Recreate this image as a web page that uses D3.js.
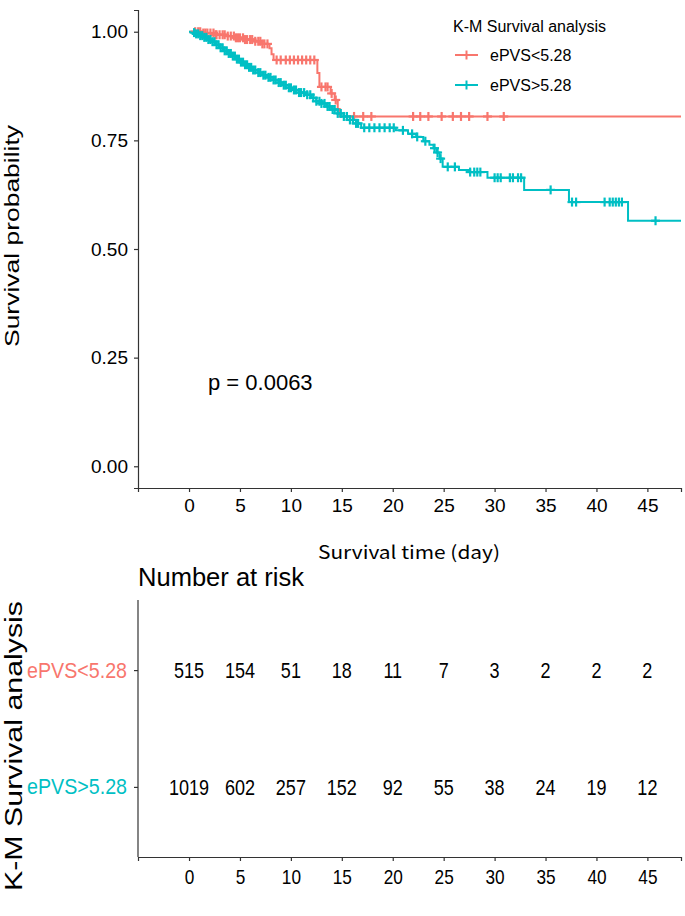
<!DOCTYPE html>
<html><head><meta charset="utf-8">
<script src="https://cdn.jsdelivr.net/npm/d3@7"></script>
<style>body{margin:0;background:#fff}svg{display:block}</style>
</head><body>
<svg id="c" width="685" height="916"></svg>
<script>
// ---------- data ----------
const groups = ["ePVS<5.28", "ePVS>5.28"];
const colors = ["#F8766D", "#00BFC4"];
const legendTitle = "K-M Survival analysis";
const pValueText = "p = 0.0063";
const xTicks = [0, 5, 10, 15, 20, 25, 30, 35, 40, 45];
const yTicks = [0, 0.25, 0.5, 0.75, 1];
const lastTime = [48.3, 48.3];

// group 1: ePVS<5.28 (event times and survival after each event)
const redTimes = [1.2, 2.5, 3.6, 4.6, 5.5, 6.3, 7.2, 7.9, 8.1, 8.3, 12.6, 12.8, 13.9, 14.3, 14.6, 14.8];
const redSurv  = [0.997, 0.993, 0.990, 0.986, 0.982, 0.978, 0.972, 0.962, 0.948, 0.935, 0.905, 0.873, 0.858, 0.843, 0.822, 0.805];
const redCensor = [0.6, 0.9, 1.1, 1.4, 1.6, 1.8, 2.1, 2.4, 2.6, 2.7, 3.0, 3.3, 3.5, 3.8, 4.1, 4.4, 4.6, 4.8, 5.0, 5.3, 5.5, 5.7,
  6.0, 6.2, 6.5, 6.8, 7.0, 7.2, 7.4, 7.7,
  8.6, 9.0, 9.5, 9.9, 10.3, 10.7, 11.1, 11.5, 11.9, 12.3, 13.0, 13.4, 13.6, 14.0, 14.4,
  16.2, 17.1, 17.9, 22.0, 22.7, 23.5, 24.8, 25.9, 26.7, 27.5, 29.3, 30.9];

// group 2: ePVS>5.28
const tealTimes = [0.3, 0.7, 1.0, 1.4, 1.8, 2.2, 2.6, 3.0, 3.4, 3.8, 4.2, 4.6, 5.0, 5.4, 5.8, 6.3, 6.8, 7.3, 7.8, 8.3, 8.8, 9.3, 9.8,
  10.3, 10.8, 11.4, 12.0, 12.5, 13.0, 13.5, 14.0, 14.6, 15.2, 15.8, 16.4, 16.9, 20.3, 21.5, 22.3, 23.0, 23.6, 24.0, 24.3, 24.6,
  24.9, 26.5, 27.6, 29.3, 32.9, 37.3, 43.1];
const tealSurv = [0.998, 0.995, 0.991, 0.987, 0.982, 0.977, 0.970, 0.963, 0.956, 0.950, 0.944, 0.937, 0.930, 0.924, 0.918, 0.912,
  0.906, 0.900, 0.895, 0.889, 0.883, 0.877, 0.871, 0.866, 0.860, 0.855, 0.848, 0.840, 0.835, 0.828, 0.821, 0.812, 0.805, 0.797,
  0.789, 0.779, 0.773, 0.765, 0.758, 0.748, 0.740, 0.732, 0.722, 0.708, 0.689, 0.682, 0.677, 0.664, 0.636, 0.608, 0.565];
const tealCensor = [0.5, 0.7, 0.9, 1.1, 1.3, 1.5, 1.7, 1.9, 2.1, 2.3, 2.5, 2.7, 2.9, 3.1, 3.3, 3.5, 3.7, 3.9, 4.1, 4.3, 4.5, 4.7,
  4.9, 5.1, 5.3, 5.5, 5.7, 5.9, 6.1, 6.3, 6.5, 6.8, 7.0, 7.3, 7.5, 7.8, 8.0, 8.3, 8.5, 8.8, 9.0, 9.3, 9.5, 9.8,
  10.0, 10.3, 10.5, 10.8, 11.0, 11.3, 11.6, 11.9, 12.2, 12.5, 12.8, 13.0, 13.3, 13.6, 13.8, 14.1, 14.3, 14.6, 14.9, 15.2, 15.5,
  15.8, 16.1, 16.4, 16.6, 17.2, 17.7, 18.2, 18.7, 19.2, 19.7, 20.1, 21.0,
  21.9, 22.4, 23.2, 24.1, 24.4, 24.7, 25.4, 26.1, 27.6, 28.0, 28.3, 28.6, 30.0, 30.3, 30.6, 31.5, 31.8, 32.3, 32.6, 35.5, 37.6,
  38.0, 40.8, 41.3, 41.6, 41.9, 42.2, 42.5, 45.8];

// number at risk
const riskTimes = [0, 5, 10, 15, 20, 25, 30, 35, 40, 45];
const riskRed  = [515, 154, 51, 18, 11, 7, 3, 2, 2, 2];
const riskTeal = [1019, 602, 257, 152, 92, 55, 38, 24, 19, 12];

// ---------- drawing ----------
const svg = d3.select("#c");
const FONT = "'Liberation Sans', Arial, sans-serif";
const AX = "#333";
const NARROW_SCALE = 0.82;

const x = d3.scaleLinear().domain([-5.01, 48.3]).range([138, 681]);
const y = d3.scaleLinear().domain([-0.05, 1.05]).range([488, 10]);

function styleAxis(g, size, narrow) {
  g.select(".domain").attr("stroke", AX).attr("stroke-width", 1.2);
  g.selectAll(".tick line").attr("stroke", AX).attr("stroke-width", 1.2);
  const t = g.selectAll(".tick text").attr("fill", "#000").style("font-size", size + "px").style("font-family", FONT);
  if (narrow) t.attr("transform", `scale(${NARROW_SCALE},1)`);
}

svg.append("g").attr("transform", "translate(0,488)")
  .call(d3.axisBottom(x).tickValues(xTicks).tickSizeOuter(0).tickSize(4).tickPadding(7))
  .call(g => styleAxis(g, 19, false));
svg.append("g").attr("transform", "translate(138,0)")
  .call(d3.axisLeft(y).tickValues(yTicks).tickFormat(d3.format(".2f")).tickSizeOuter(0).tickSize(4).tickPadding(6))
  .call(g => styleAxis(g, 19, false));

// y title
svg.append("text").attr("transform", "translate(19,236) rotate(-90)")
  .attr("text-anchor", "middle").style("font-family", FONT).style("font-size", "21px")
  .attr("textLength", 222).attr("lengthAdjust", "spacingAndGlyphs")
  .text("Survival probability");

// x title
svg.append("text").attr("x", 409).attr("y", 559).attr("text-anchor", "middle")
  .style("font-family", "'Noto Sans CJK KR', 'Open Sans', sans-serif").style("font-size", "18px")
  .attr("textLength", 182).attr("lengthAdjust", "spacingAndGlyphs")
  .text("Survival time (day)");

const series = [
  {times: redTimes, surv: redSurv, censor: redCensor},
  {times: tealTimes, surv: tealSurv, censor: tealCensor}
];

const line = d3.line().x(d => x(d[0])).y(d => y(d[1])).curve(d3.curveStepAfter);
const plot = svg.append("g");

series.forEach((s, i) => {
  const pts = [[0, 1]];
  s.times.forEach((t, k) => pts.push([t, s.surv[k]]));
  pts.push([lastTime[i], s.surv[s.surv.length - 1]]);
  plot.append("path").attr("d", line(pts)).attr("fill", "none")
    .attr("stroke", colors[i]).attr("stroke-width", 2);
});

function survAt(s, t) {
  let v = 1;
  for (let k = 0; k < s.times.length; k++) if (s.times[k] <= t) v = s.surv[k];
  return v;
}
const H = 4.5;
series.forEach((s, i) => {
  const g = plot.append("g").attr("stroke", colors[i]).attr("stroke-width", 2.2);
  s.censor.forEach(t => {
    const cx = x(t), cy = y(survAt(s, t));
    g.append("line").attr("x1", cx - H).attr("x2", cx + H).attr("y1", cy).attr("y2", cy);
    g.append("line").attr("x1", cx).attr("x2", cx).attr("y1", cy - H).attr("y2", cy + H);
  });
});

// p-value
svg.append("text").attr("x", 208).attr("y", 390).style("font-family", FONT).style("font-size", "22px")
  .text(pValueText);

// legend
svg.append("text").attr("x", 453).attr("y", 32).style("font-family", FONT).style("font-size", "16px").text(legendTitle);
groups.forEach((gname, i) => {
  const ly = 55 + i * 30;
  const g = svg.append("g").attr("stroke", colors[i]).attr("stroke-width", 2);
  g.append("line").attr("x1", 455).attr("x2", 478).attr("y1", ly).attr("y2", ly);
  g.append("line").attr("x1", 466.5).attr("x2", 466.5).attr("y1", ly - H).attr("y2", ly + H);
  svg.append("text").attr("x", 490).attr("y", ly + 6).style("font-family", FONT).style("font-size", "16px").text(gname);
});

// ---------- risk table ----------
svg.append("text").attr("x", 138).attr("y", 586).style("font-family", FONT).style("font-size", "25px")
  .attr("textLength", 166).attr("lengthAdjust", "spacingAndGlyphs").text("Number at risk");

const yr = d3.scalePoint().domain([groups[1], groups[0]]).range([857, 600]).padding(0.6);
svg.append("g").attr("transform", "translate(0,857)")
  .call(d3.axisBottom(x).tickValues(xTicks).tickSizeOuter(0).tickSize(4).tickPadding(8))
  .call(g => styleAxis(g, 21, true));
const yAxisR = svg.append("g").attr("transform", "translate(138,0)")
  .call(d3.axisLeft(yr).tickSizeOuter(0).tickSize(4).tickPadding(7));
yAxisR.select(".domain").attr("d", "M0,600V857").attr("stroke", AX).attr("stroke-width", 1.2);
yAxisR.selectAll(".tick line").attr("stroke", AX).attr("stroke-width", 1.2);
yAxisR.selectAll(".tick text")
  .attr("fill", d => colors[groups.indexOf(d)])
  .style("font-size", "22px").style("font-family", FONT)
  .attr("textLength", 100).attr("lengthAdjust", "spacingAndGlyphs");

const riskRows = [riskRed, riskTeal];
riskRows.forEach((row, i) => {
  svg.append("g").selectAll("text").data(row).join("text")
    .attr("transform", (d, k) => `translate(${x(riskTimes[k])},${yr(groups[i])}) scale(${NARROW_SCALE},1)`)
    .attr("dy", "0.35em").attr("text-anchor", "middle")
    .style("font-family", FONT).style("font-size", "22px").text(d => d);
});

svg.append("text").attr("transform", "translate(22,746) rotate(-90)")
  .attr("text-anchor", "middle").style("font-family", FONT).style("font-size", "23px")
  .attr("textLength", 290).attr("lengthAdjust", "spacingAndGlyphs")
  .text(legendTitle);
</script>
</body></html>
